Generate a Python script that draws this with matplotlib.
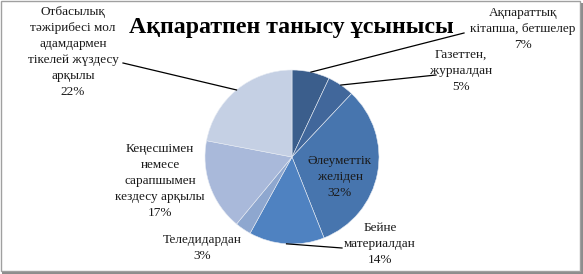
import matplotlib
matplotlib.use("Agg")
import matplotlib.pyplot as plt
import numpy as np
from matplotlib.patches import Rectangle

plt.rcParams['font.family'] = ['Liberation Serif', 'DejaVu Serif']

title = "Ақпаратпен танысу ұсынысы"
categories = [
    "Ақпараттық\nкітапша, бетшелер",
    "Газеттен,\nжурналдан",
    "Әлеуметтік\nжеліден",
    "Бейне\nматериалдан",
    "Теледидардан",
    "Кеңесшімен\nнемесе\nсарапшымен\nкездесу арқылы",
    "Отбасылық\nтәжірибесі мол\nадамдармен\nтікелей жүздесу\nарқылы",
]
values = [7, 5, 32, 14, 3, 17, 22]
colors = ["#3b5e8c", "#41679b", "#4775ae", "#4f82c1", "#8ea7cf", "#a9b9da", "#c5d0e4"]

W, H = 583, 274
fig = plt.figure(figsize=(W / 100, H / 100), dpi=100)
ax = fig.add_axes([0, 0, 1, 1])

# frame with shadow
ax.add_patch(Rectangle((2, 0), W - 2, H - 3, facecolor="#8c8c8c", edgecolor="none", zorder=0))
ax.add_patch(Rectangle((0.5, 3), W - 4, H - 3.5, facecolor="white", edgecolor="#a0a0a0", lw=1, zorder=1))

cx, cy, r = 292, H - 157, 87
wedges, _ = ax.pie(values, colors=colors, startangle=90, counterclock=False,
                   center=(cx, cy), radius=r, frame=True,
                   wedgeprops=dict(edgecolor="#e6ebf3", linewidth=0.4, zorder=3))
ax.set_xlim(0, W)
ax.set_ylim(0, H)
ax.set_aspect('equal')
ax.axis('off')

fs = 9.5
# label centres (pixel coords from top-left) and leader-line ends
label_pos = [(523, 29), (461, 71), (340, 177), (380, 244), (202, 248), (160, 181), (73, 52)]
line_end = [(464, 33), (436, 75), None, (342, 248), None, None, (123, 63)]

for i, (w, v) in enumerate(zip(wedges, values)):
    lx, ly = label_pos[i]
    ax.text(lx, H - ly, f"{categories[i]}\n{v}%", ha='center', va='center',
            fontsize=fs, linespacing=1.46, zorder=5, color="#1a1a1a")
    if line_end[i] is not None:
        ang = np.deg2rad((w.theta1 + w.theta2) / 2)
        px, py = cx + r * np.cos(ang), cy + r * np.sin(ang)
        ex, ey = line_end[i]
        ax.plot([px, ex], [py, H - ey], color="black", lw=0.9, zorder=4)

ax.text(291, H - 27, title, ha='center', va='center', fontsize=17.2,
        fontweight='bold', zorder=5)

fig.savefig("out.png", dpi=100)
